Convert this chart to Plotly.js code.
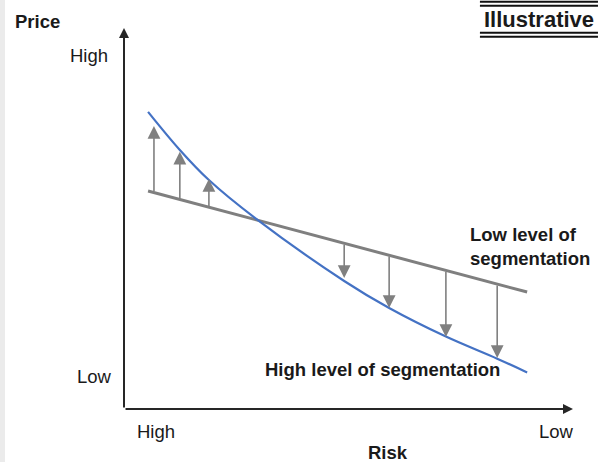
<!DOCTYPE html>
<html>
<head>
<meta charset="utf-8">
<script src="https://cdn.plot.ly/plotly-3.0.1.min.js"></script>
<style>html,body{margin:0;padding:0;background:#fff;}#chart{width:608px;height:462px;}</style>
</head>
<body>
<div id="chart"></div>
<script>
// Conceptual scale 0..10 for Risk (x: High -> Low) and Price (y: Low -> High)
const highSegX = [0.53, 1.23, 1.87, 2.89, 4.85, 5.84, 7.09, 8.22, 8.88];
const highSegY = [7.80, 6.80, 6.01, 5.01, 3.36, 2.65, 1.90, 1.32, 0.96];
const lowSegX = [0.53, 8.88];
const lowSegY = [5.72, 3.07];
// Arrows: from low-segmentation line to high-segmentation curve
const arrowX    = [0.66, 1.23, 1.87, 4.85, 5.84, 7.09, 8.22];
const arrowFrom = [5.68, 5.49, 5.28, 4.35, 4.04, 3.64, 3.28];
const arrowTo   = [7.43, 6.75, 6.04, 3.44, 2.65, 1.89, 1.34];
const axisLabels = {yHigh: 'High', yLow: 'Low', xHigh: 'High', xLow: 'Low'};

const FONT = 'Liberation Sans, Arial, sans-serif';
const TXT = '#1a1a1a';
const FS = 18.5;

const traces = [
  {x: lowSegX, y: lowSegY, mode: 'lines', line: {color: '#7f7f7f', width: 3}, hoverinfo: 'skip'},
  {x: highSegX, y: highSegY, mode: 'lines', line: {color: '#4472c4', width: 2.2, shape: 'spline', smoothing: 1}, hoverinfo: 'skip'}
];

const annotations = [];
arrowX.forEach((x, i) => {
  annotations.push({x: x, y: arrowTo[i], ax: x, ay: arrowFrom[i], xref: 'x', yref: 'y', axref: 'x', ayref: 'y',
    text: '', showarrow: true, arrowhead: 2, arrowsize: 1.6, arrowwidth: 1.6, arrowcolor: '#808080', standoff: 0});
});
// axis arrows
annotations.push({x: 9.89, y: 0, ax: 0, ay: 0, xref: 'x', yref: 'y', axref: 'x', ayref: 'y', text: '', showarrow: true,
  arrowhead: 2, arrowsize: 1, arrowwidth: 2, arrowcolor: '#262626', standoff: 0});
annotations.push({x: 0, y: 10, ax: 0, ay: 0, xref: 'x', yref: 'y', axref: 'x', ayref: 'y', text: '', showarrow: true,
  arrowhead: 2, arrowsize: 1, arrowwidth: 2, arrowcolor: '#262626', standoff: 0});

function txt(t, x, y, opts) {
  return Object.assign({text: t, x: x, y: y, xref: 'paper', yref: 'paper', showarrow: false,
    xanchor: 'center', yanchor: 'middle', font: {family: FONT, size: FS, color: TXT}}, opts || {});
}
annotations.push(txt('<b>Price</b>', -0.2445, 1.018, {xanchor: 'left'}));
annotations.push(txt(axisLabels.yHigh, -0.077, 0.929));
annotations.push(txt(axisLabels.yLow, -0.065, 0.084));
annotations.push(txt(axisLabels.xHigh, 0.0705, -0.060));
annotations.push(txt(axisLabels.xLow, 0.9526, -0.060));
annotations.push(txt('<b>Risk</b>', 0.5815, -0.113));
annotations.push(txt('<b>Illustrative</b>', 0.913, 1.0223, {font: {family: FONT, size: 22, color: TXT}}));
annotations.push(txt('<b>Low level of</b><br><b>segmentation</b>', 0.7577, 0.4252, {xanchor: 'left', align: 'left'}));
annotations.push(txt('<b>High level of segmentation</b>', 0.3062, 0.1024, {xanchor: 'left'}));

const shapes = [
  {type: 'rect', xref: 'paper', yref: 'paper', x0: -0.2731, x1: -0.2621, y0: -0.139, y1: 1.0735, fillcolor: '#ebebeb', line: {width: 0}, layer: 'below'},
  {type: 'line', xref: 'paper', yref: 'paper', x0: 0.784, x1: 1.044, y0: 1.0690, y1: 1.0690, line: {color: '#111', width: 2}},
  {type: 'line', xref: 'paper', yref: 'paper', x0: 0.784, x1: 1.044, y0: 1.0585, y1: 1.0585, line: {color: '#111', width: 2}},
  {type: 'line', xref: 'paper', yref: 'paper', x0: 0.784, x1: 1.044, y0: 0.9877, y1: 0.9877, line: {color: '#111', width: 2}},
  {type: 'line', xref: 'paper', yref: 'paper', x0: 0.784, x1: 1.044, y0: 0.9772, y1: 0.9772, line: {color: '#111', width: 2}}
];

const layout = {
  width: 608, height: 462,
  margin: {l: 124, r: 30, t: 28, b: 53},
  paper_bgcolor: '#ffffff', plot_bgcolor: '#ffffff',
  showlegend: false,
  xaxis: {range: [0, 10], visible: false, fixedrange: true},
  yaxis: {range: [0, 10], visible: false, fixedrange: true},
  annotations: annotations,
  shapes: shapes
};

Plotly.newPlot('chart', traces, layout, {displayModeBar: false, staticPlot: true});
</script>
</body>
</html>
